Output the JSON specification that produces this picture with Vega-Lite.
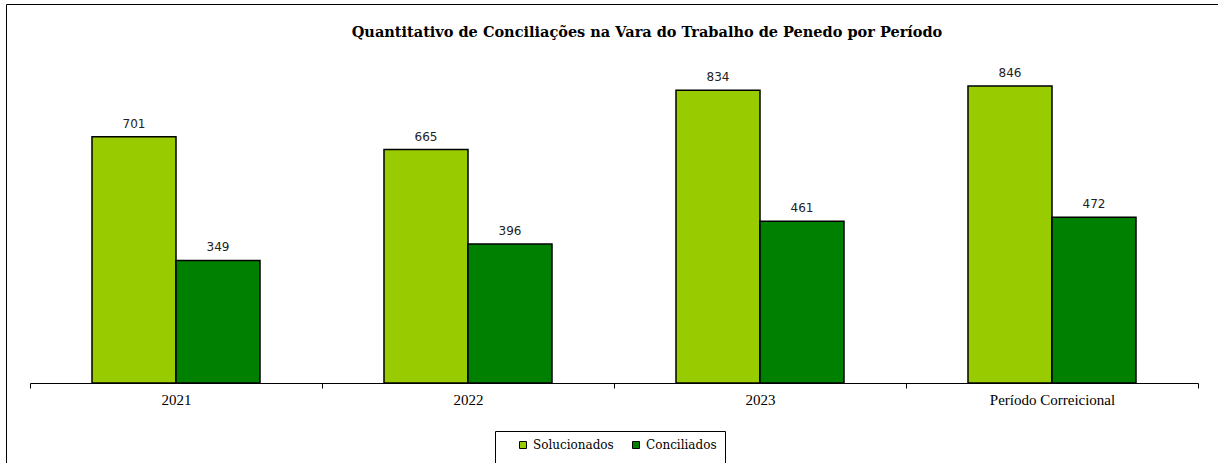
{
  "$schema": "https://vega.github.io/schema/vega-lite/v6.json",
  "width": 1220,
  "height": 470,
  "autosize": {"type": "none"},
  "padding": {"left": 6, "top": 4, "right": 0, "bottom": 0},
  "background": "white",
  "title": {
    "text": "Quantitativo de Conciliações na Vara do Trabalho de Penedo por Período",
    "font": "DejaVu Serif",
    "fontSize": 14.5,
    "fontWeight": "bold",
    "color": "black",
    "anchor": "middle",
    "offset": -36,
    "dx": 31
  },
  "config": {"view": {"stroke": "black", "strokeWidth": 1}},
  "data": {
    "values": [
      {"periodo": "2021", "serie": "Solucionados", "valor": 701},
      {"periodo": "2021", "serie": "Conciliados", "valor": 349},
      {"periodo": "2022", "serie": "Solucionados", "valor": 665},
      {"periodo": "2022", "serie": "Conciliados", "valor": 396},
      {"periodo": "2023", "serie": "Solucionados", "valor": 834},
      {"periodo": "2023", "serie": "Conciliados", "valor": 461},
      {"periodo": "Período Correicional", "serie": "Solucionados", "valor": 846},
      {"periodo": "Período Correicional", "serie": "Conciliados", "valor": 472}
    ]
  },
  "encoding": {
    "x": {
      "field": "periodo",
      "type": "nominal",
      "sort": ["2021", "2022", "2023", "Período Correicional"],
      "scale": {"range": [24, 1192], "paddingInner": 0, "paddingOuter": 0},
      "axis": {
        "title": null,
        "labelAngle": 0,
        "orient": "bottom",
        "offset": -91,
        "tickBand": "extent",
        "tickSize": 5,
        "tickColor": "black",
        "domainColor": "black",
        "labelFont": "Liberation Serif",
        "labelFontSize": 15,
        "labelColor": "black",
        "labelPadding": 4
      }
    },
    "xOffset": {
      "field": "serie",
      "type": "nominal",
      "sort": ["Solucionados", "Conciliados"],
      "scale": {"paddingInner": 0, "paddingOuter": 0.738}
    },
    "y": {
      "field": "valor",
      "type": "quantitative",
      "scale": {"domain": [0, 900], "range": [379, 63]},
      "axis": null
    }
  },
  "layer": [
    {
      "mark": {"type": "bar", "stroke": "black", "strokeWidth": 1.5},
      "encoding": {
        "color": {
          "field": "serie",
          "type": "nominal",
          "scale": {"domain": ["Solucionados", "Conciliados"], "range": ["#99CC00", "#008000"]},
          "legend": {
            "orient": "none",
            "legendX": 489,
            "legendY": 427,
            "direction": "horizontal",
            "title": " ",
            "titleOrient": "bottom",
            "titleFontSize": 12,
            "titlePadding": 6,
            "strokeColor": "black",
            "padding": 8,
            "symbolOffset": 14,
            "symbolType": "square",
            "symbolSize": 49,
            "symbolStrokeColor": "black",
            "symbolStrokeWidth": 1,
            "symbolOpacity": 1,
            "labelFont": "DejaVu Serif",
            "labelFontSize": 12,
            "labelColor": "black",
            "columnPadding": 2,
            "labelOffset": 4
          }
        }
      }
    },
    {
      "mark": {"type": "text", "dy": -9, "baseline": "alphabetic", "font": "DejaVu Sans", "fontSize": 12, "color": "#222222"},
      "encoding": {"text": {"field": "valor", "type": "quantitative"}}
    }
  ]
}
